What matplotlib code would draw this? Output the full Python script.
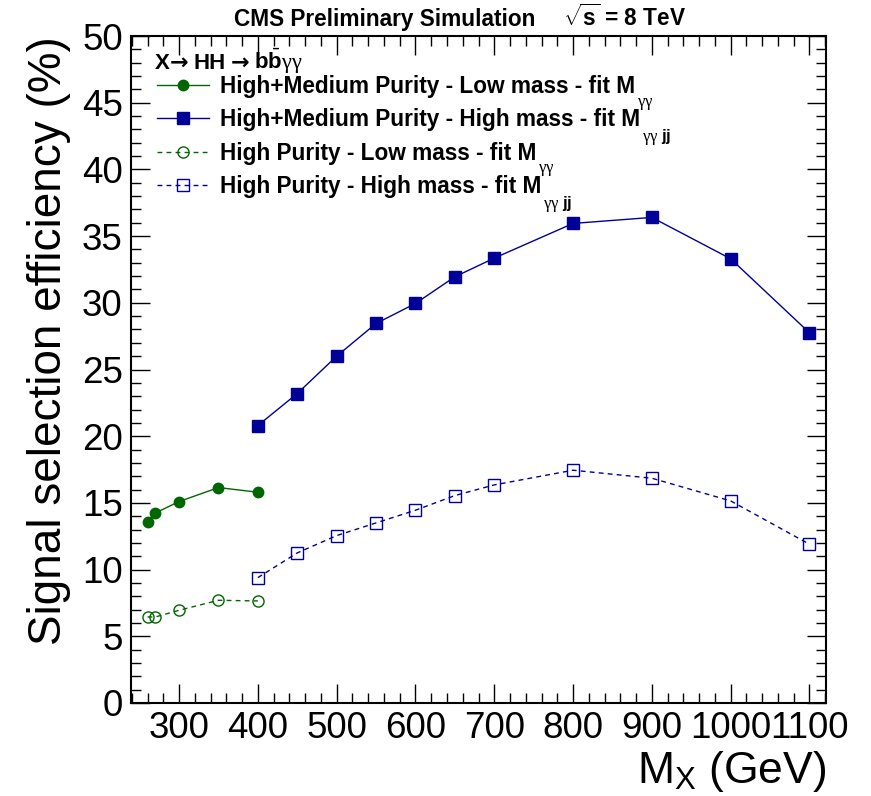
import matplotlib
matplotlib.use("Agg")
import matplotlib.pyplot as plt
from matplotlib.ticker import MultipleLocator
from matplotlib.font_manager import FontProperties

plt.rcParams['font.family'] = ['Liberation Sans', 'DejaVu Sans']
plt.rcParams['mathtext.fontset'] = 'custom'
plt.rcParams['mathtext.rm'] = 'Liberation Sans'
plt.rcParams['mathtext.bf'] = 'Liberation Sans:bold'
plt.rcParams['mathtext.it'] = 'Liberation Serif'

# signal efficiency vs resonance mass
mx_low = [260, 270, 300, 350, 400]
mx_high = [400, 450, 500, 550, 600, 650, 700, 800, 900, 1000, 1100]
eff_hm_low = [13.6, 14.25, 15.1, 16.15, 15.8]
eff_hm_high = [20.8, 23.2, 26.0, 28.45, 29.95, 31.95, 33.35, 35.95, 36.4, 33.3, 27.75]
eff_hp_low = [6.45, 6.45, 6.95, 7.7, 7.65]
eff_hp_high = [9.4, 11.25, 12.55, 13.5, 14.45, 15.55, 16.35, 17.45, 16.85, 15.15, 11.9]

labels = ["High+Medium Purity - Low mass - fit M",
          "High+Medium Purity - High mass - fit M",
          "High Purity - Low mass - fit M",
          "High Purity - High mass - fit M"]
subs = [r"$\gamma\gamma$", r"$\gamma\gamma$ $\mathbf{jj}$",
        r"$\gamma\gamma$", r"$\gamma\gamma$ $\mathbf{jj}$"]
header = [("X", 'Liberation Sans', 0), ("\u2192", 'DejaVu Sans', 5),
          ("HH", 'Liberation Sans', 5), ("\u2192", 'DejaVu Sans', 5),
          (r"b$\bar{\mathbf{b}}\gamma\gamma$", 'Liberation Sans', 0)]

green = '#006600'
blue = '#000099'

W, H = 871, 796
fig = plt.figure(figsize=(W/100, H/100), dpi=100)
ax = fig.add_axes([131/W, (H-703)/H, (826-131)/W, (703-36)/H])

l1, = ax.plot(mx_low, eff_hm_low, color=green, lw=1.0, marker='o', ms=7.5)
l2, = ax.plot(mx_high, eff_hm_high, color=blue, lw=1.0, marker='s', ms=8.5)
l3, = ax.plot(mx_low, eff_hp_low, color=green, lw=1.0, ls=(0, (3.5, 3)),
              marker='o', ms=8, mfc='none', mew=1.0)
l4, = ax.plot(mx_high, eff_hp_high, color=blue, lw=1.0, ls=(0, (3.5, 3)),
              marker='s', ms=8.5, mfc='none', mew=1.0)

ax.set_xlim(239, 1121)
ax.set_ylim(0, 50)
ax.xaxis.set_major_locator(MultipleLocator(100))
ax.xaxis.set_minor_locator(MultipleLocator(20))
ax.yaxis.set_major_locator(MultipleLocator(5))
ax.yaxis.set_minor_locator(MultipleLocator(1))
ax.tick_params(which='both', direction='in', top=True, right=True, width=1.0)
ax.tick_params(which='major', length=14, labelsize=26.5)
ax.tick_params(which='minor', length=7)
ax.tick_params(axis='x', pad=6)
ax.tick_params(axis='y', pad=6)
for s in ax.spines.values():
    s.set_linewidth(1.5)

ax.set_ylabel("Signal selection efficiency (%)", fontsize=33, loc='top', labelpad=8)
ax.set_xlabel(r"M$_{\mathrm{X}}$ (GeV)", fontsize=32, loc='right', labelpad=2)

fig.text(234/W, 1-26/H, "CMS Preliminary Simulation", fontsize=16.3,
         fontweight='bold', va='baseline')
fig.text(563/W, 1-26/H, r"$\sqrt{\mathbf{s}}$ = 8 TeV", fontsize=16.3,
         fontweight='bold', va='baseline')

leg = ax.legend([l1, l2, l3, l4], labels, loc='upper left',
                bbox_to_anchor=(157/W, 1-75/H), bbox_transform=fig.transFigure,
                frameon=False, borderpad=0, borderaxespad=0,
                prop=FontProperties(family='Liberation Sans', weight='bold', size=16.3),
                handlelength=2.3, handletextpad=0.5, labelspacing=0.46)

# legend header, pieces laid out left to right
fig.canvas.draw()
rend = fig.canvas.get_renderer()
x = 155
for txt, fam, gap in header:
    t = fig.text(x/W, 1-69/H, txt, fontsize=16, fontweight='bold',
                 va='baseline', family=fam)
    x = t.get_window_extent(rend).x1 + gap

# subscripts hang below the end of each legend entry
for t, s in zip(leg.get_texts(), subs):
    bb = t.get_window_extent()
    yc = (bb.y0 + bb.y1) / 2 - 17
    fig.text((bb.x1 + 1)/W, yc/H, s, fontsize=12, va='center', ha='left')

fig.savefig("out.png", dpi=100)
